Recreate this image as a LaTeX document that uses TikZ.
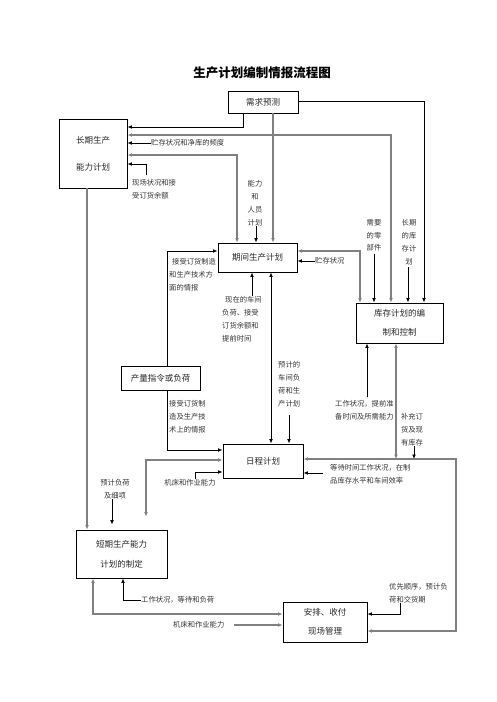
\documentclass[tikz,border=0pt]{standalone}
\usepackage{fontspec}
\setmainfont{Noto Sans CJK SC}
\usetikzlibrary{arrows.meta,calc}
\begin{document}
\begin{tikzpicture}[x=1pt,y=-1pt,
  box/.style={draw,line width=0.9pt,inner sep=0pt,align=center,text=black!85,font=\fontsize{8.5}{19}\selectfont},
  lab/.style={inner sep=0pt,text=black!80,font=\fontsize{7.3}{12.8}\selectfont},
  bl/.style={line width=0.8pt,black},
  gl/.style={line width=1.4pt,black!50},
  >={Latex[length=4.5pt,width=3.8pt]}]
\useasboundingbox (0,0) rectangle (496,702);
% title
\node[font=\fontsize{12.5}{14}\selectfont\bfseries] (title) at (262,73) {生产计划编制情报流程图};
% boxes
\node[box,minimum width=70pt,minimum height=22pt] (xq) at (263,102) {需求预测};
\node[box,minimum width=68pt,minimum height=69pt,font=\fontsize{8.5}{27}\selectfont] (cq) at (93,153.5) {长期生产\\能力计划};
\node[box,minimum width=79pt,minimum height=29pt] (qj) at (257.5,257.5) {期间生产计划};
\node[box,minimum width=87pt,minimum height=40pt] (kc) at (399.5,323) {库存计划的编\\制和控制};
\node[box,minimum width=79pt,minimum height=24pt] (cl) at (160.5,378) {产量指令或负荷};
\node[box,minimum width=80pt,minimum height=34pt] (rc) at (263,461) {日程计划};
\node[box,minimum width=91pt,minimum height=48pt,font=\fontsize{8.5}{20}\selectfont] (dq) at (121.5,554) {短期生产能力\\计划的制定};
\node[box,minimum width=84pt,minimum height=40pt] (ap) at (325,622) {安排、收付\\现场管理};
% labels
\node[lab,anchor=west] (l3) at (151,143) {贮存状况和净库的频度};
\node[lab,anchor=north west,align=left] (l5) at (132,179.3) {现场状况和接\\受订货余额};
\node[lab,anchor=north,align=center] (l8) at (255,180.3) {能力\\和\\人员\\计划};
\node[lab,anchor=north west,align=left] (l10) at (169,258.3) {\hspace{3pt}接受订货制造\\和生产技术方\\面的情报};
\node[lab,anchor=west] (l12) at (315,261) {贮存状况};
\node[lab,anchor=north,align=center] (l13) at (374,219.3) {需要\\的零\\部件};
\node[lab,anchor=north,align=center] (l14) at (409,219.3) {长期\\的库\\存计\\划};
\node[lab,anchor=north west,align=left] (l15) at (222,296.3) {\hspace{3pt}现在的车间\\负荷、接受\\订货余额和\\提前时间};
\node[lab,anchor=north west,align=left] (l17) at (278,361.3) {预计的\\车间负\\荷和生\\产计划};
\node[lab,anchor=north west,align=left] (l19) at (169,400.3) {接受订货制\\造及生产技\\术上的情报};
\node[lab,anchor=north west,align=left] (l26) at (335,400.3) {工作状况，提前准\\备时间及所需能力};
\node[lab,anchor=north,align=center] (l28) at (412,413.3) {补充订\\货及现\\有库存};
\node[lab,anchor=north west,align=left] (l25) at (330,464.3) {等待时间工作状况，在制\\品库存水平和车间效率};
\node[lab] (l21) at (190,483) {机床和作业能力};
\node[lab,anchor=north,align=center] (l22) at (115,479.3) {预计负荷\\及细项};
\node[lab,anchor=north west,align=left] (l32) at (389,583.3) {优先顺序，预计负\\荷和交货期};
\node[lab,anchor=west] (l30) at (141,600) {工作状况，等待和负荷};
\node[lab,anchor=west] (l31) at (173,625) {机床和作业能力};
\coordinate (j1) at (396,459);
\coordinate (j2) at (414,459);
% connectors top
\draw[bl,->] (xq.south -| 243,0) |- (cq.east |- 0,127);
\draw[gl,<->] (cq.east |- 0,135) -| (kc.north -| 391,0);
\draw[bl,->] (l3.west) -- (cq.east |- l3.west);
\draw[gl,<->] (cq.east |- 0,155) -| (qj.north -| 237,0);
\draw[bl,->,shorten <=4pt] (l5.north -| 146,0) |- (cq.east |- 0,164);
\draw[bl,->] (xq.east |- 0,101) -| (kc.north -| 424,0);
\draw[gl,->] (xq.south -| 273,0) -- (qj.north -| 273,0);
\draw[bl,->] (l8.south -| 256,0) -- (qj.north -| 256,0);
% middle
\draw[bl,->] (cl.north -| 167,0) |- (qj.west |- 0,251);
\draw[gl,<->] (qj.east |- 0,251) -| (kc.north -| 360,0);
\draw[bl,->] (l12.west) -- (qj.east |- l12.west);
\draw[bl,->,shorten <=2pt] (l13.south -| 374,0) -- (kc.north -| 374,0);
\draw[bl,->,shorten <=2pt] (l14.south -| 408,0) -- (kc.north -| 408,0);
\draw[bl,->] (l15.north -| 252,0) -- (qj.south -| 252,0);
\draw[bl,<->] (qj.south -| 271,0) -- (rc.north -| 271,0);
\draw[bl,->,shorten <=8pt] (l17.south -| 289,0) -- (rc.north -| 289,0);
\draw[bl,->] (cl.south -| 167,0) |- (rc.west |- 0,450);
\draw[bl,->] ($(l26.north -| 367,0)+(0,-3)$) -- (kc.south -| 367,0);
\draw[gl,<->] (kc.south -| 396,0) -- (j1);
\draw[bl,->] (l28.south -| 414,0) -- (j2);
% lower
\draw[gl,<->,shorten >=13pt] (rc.west |- 0,460) -| (dq.north -| 146,0);
\draw[bl,->] (l21.north -| 195,0) |- (rc.west |- 0,472);
\draw[bl,->,shorten >=5pt] (l22.south -| 112,0) -- (dq.north -| 112,0);
\draw[gl,->] (cq.south -| 87,0) -- (dq.north -| 87,0);
\draw[gl,<->] (rc.east |- 0,459) -| (456,631) -- (ap.east |- 0,631);
\draw[bl,->] ($(l25.west |- 0,473)+(-7,0)$) -- (rc.east |- 0,473);
\draw[gl,<->] (dq.south -| 93,0) |- (ap.west |- 0,614);
\draw[bl,->] (l30.west) -| (dq.south -| 123,0);
\draw[gl,->] ($(l31.east)+(9,0)$) -- (ap.west |- l31.east);
\draw[bl,->] (l32.south -| 400,0) |- (ap.east |- 0,614);
\end{tikzpicture}
\end{document}
